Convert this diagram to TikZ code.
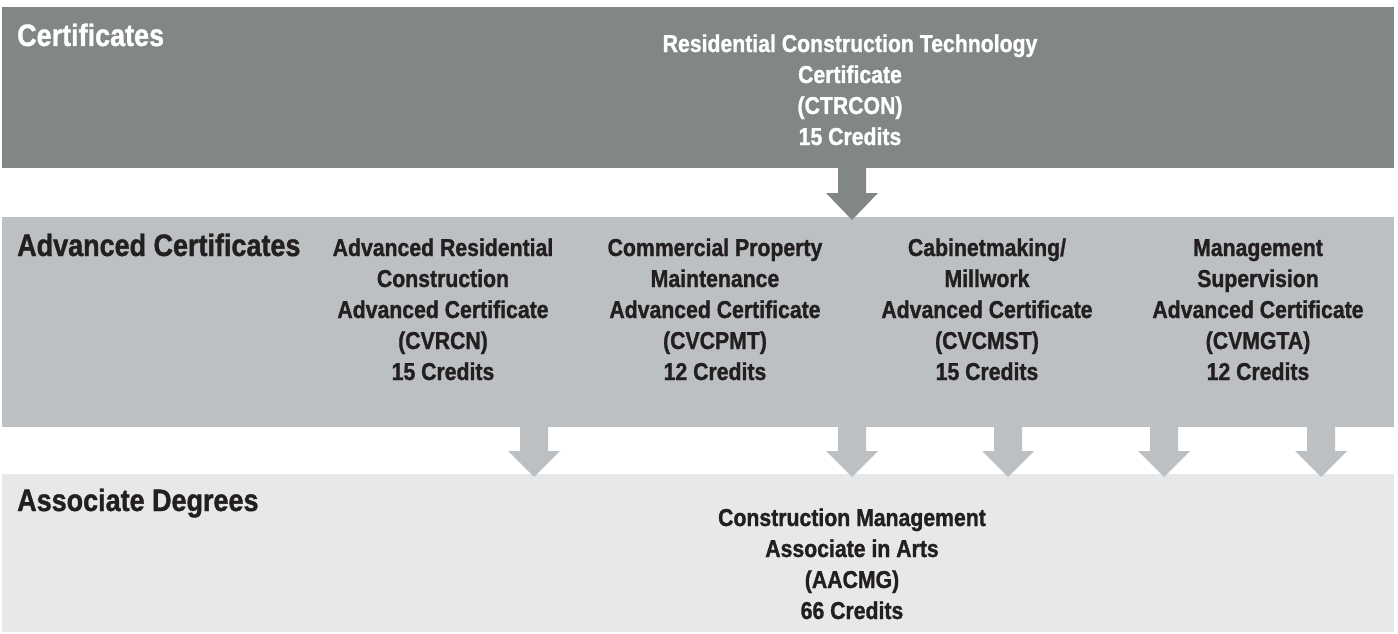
\documentclass[tikz,border=0pt]{standalone}
\usepackage{fontspec}
\newfontfamily\cond[FakeStretch=0.87, BoldFeatures={FakeBold=1.2}]{Liberation Sans}
\definecolor{bandA}{HTML}{808786}
\definecolor{bandB}{HTML}{BCC0C2}
\definecolor{bandC}{HTML}{E7E8EA}
\definecolor{ink}{HTML}{231F20}
\newcommand{\dnblock}[5]{%
  \fill[#1] (#2-14,#3) -- (#2+14,#3) -- (#2+14,#4) -- (#2+26,#4) -- (#2,#5) -- (#2-26,#4) -- (#2-14,#4) -- cycle;}
\tikzset{
  band/.style={draw=none, inner sep=0pt, anchor=north west, minimum width=1392pt},
  heading/.style={inner sep=0pt, anchor=base west, font=\cond\bfseries\fontsize{31}{36}\selectfont},
  prog/.style={inner sep=0pt, anchor=base, align=center, font=\cond\bfseries\fontsize{24.4}{31}\selectfont},
}
\begin{document}
\begin{tikzpicture}[x=1pt,y=-1pt]
\useasboundingbox (0,0) rectangle (1398,634);
% bands
\node[band, fill=bandA, minimum height=161pt] (bandcert) at (2,7) {};
\node[band, fill=bandB, minimum height=210pt] (bandadv) at (2,217) {};
\node[band, fill=bandC, minimum height=158pt] (bandassoc) at (2,474) {};
% headings
\node[heading, text=white] (hcert) at (17,46) {Certificates};
\node[heading, text=ink] (hadv) at (17,256) {Advanced Certificates};
\node[heading, text=ink] (hassoc) at (17,511) {Associate Degrees};
% programs (anchored at the baseline of the last line)
\node[prog, text=white] (ctrcon) at (850,145) {Residential Construction Technology\\Certificate\\(CTRCON)\\15 Credits};
\node[prog, text=ink] (cvrcn) at (443,380) {Advanced Residential\\Construction\\Advanced Certificate\\(CVRCN)\\15 Credits};
\node[prog, text=ink] (cvcpmt) at (715,380) {Commercial Property\\Maintenance\\Advanced Certificate\\(CVCPMT)\\12 Credits};
\node[prog, text=ink] (cvcmst) at (987,380) {Cabinetmaking/\\Millwork\\Advanced Certificate\\(CVCMST)\\15 Credits};
\node[prog, text=ink] (cvmgta) at (1258,380) {Management\\Supervision\\Advanced Certificate\\(CVMGTA)\\12 Credits};
\node[prog, text=ink] (aacmg) at (852,619) {Construction Management\\Associate in Arts\\(AACMG)\\66 Credits};
% arrows
\dnblock{bandA}{852}{168}{193}{220}
\dnblock{bandB}{534}{427}{451}{477}
\dnblock{bandB}{852}{427}{451}{477}
\dnblock{bandB}{1008}{427}{451}{477}
\dnblock{bandB}{1164}{427}{451}{477}
\dnblock{bandB}{1321}{427}{451}{477}
\end{tikzpicture}
\end{document}
